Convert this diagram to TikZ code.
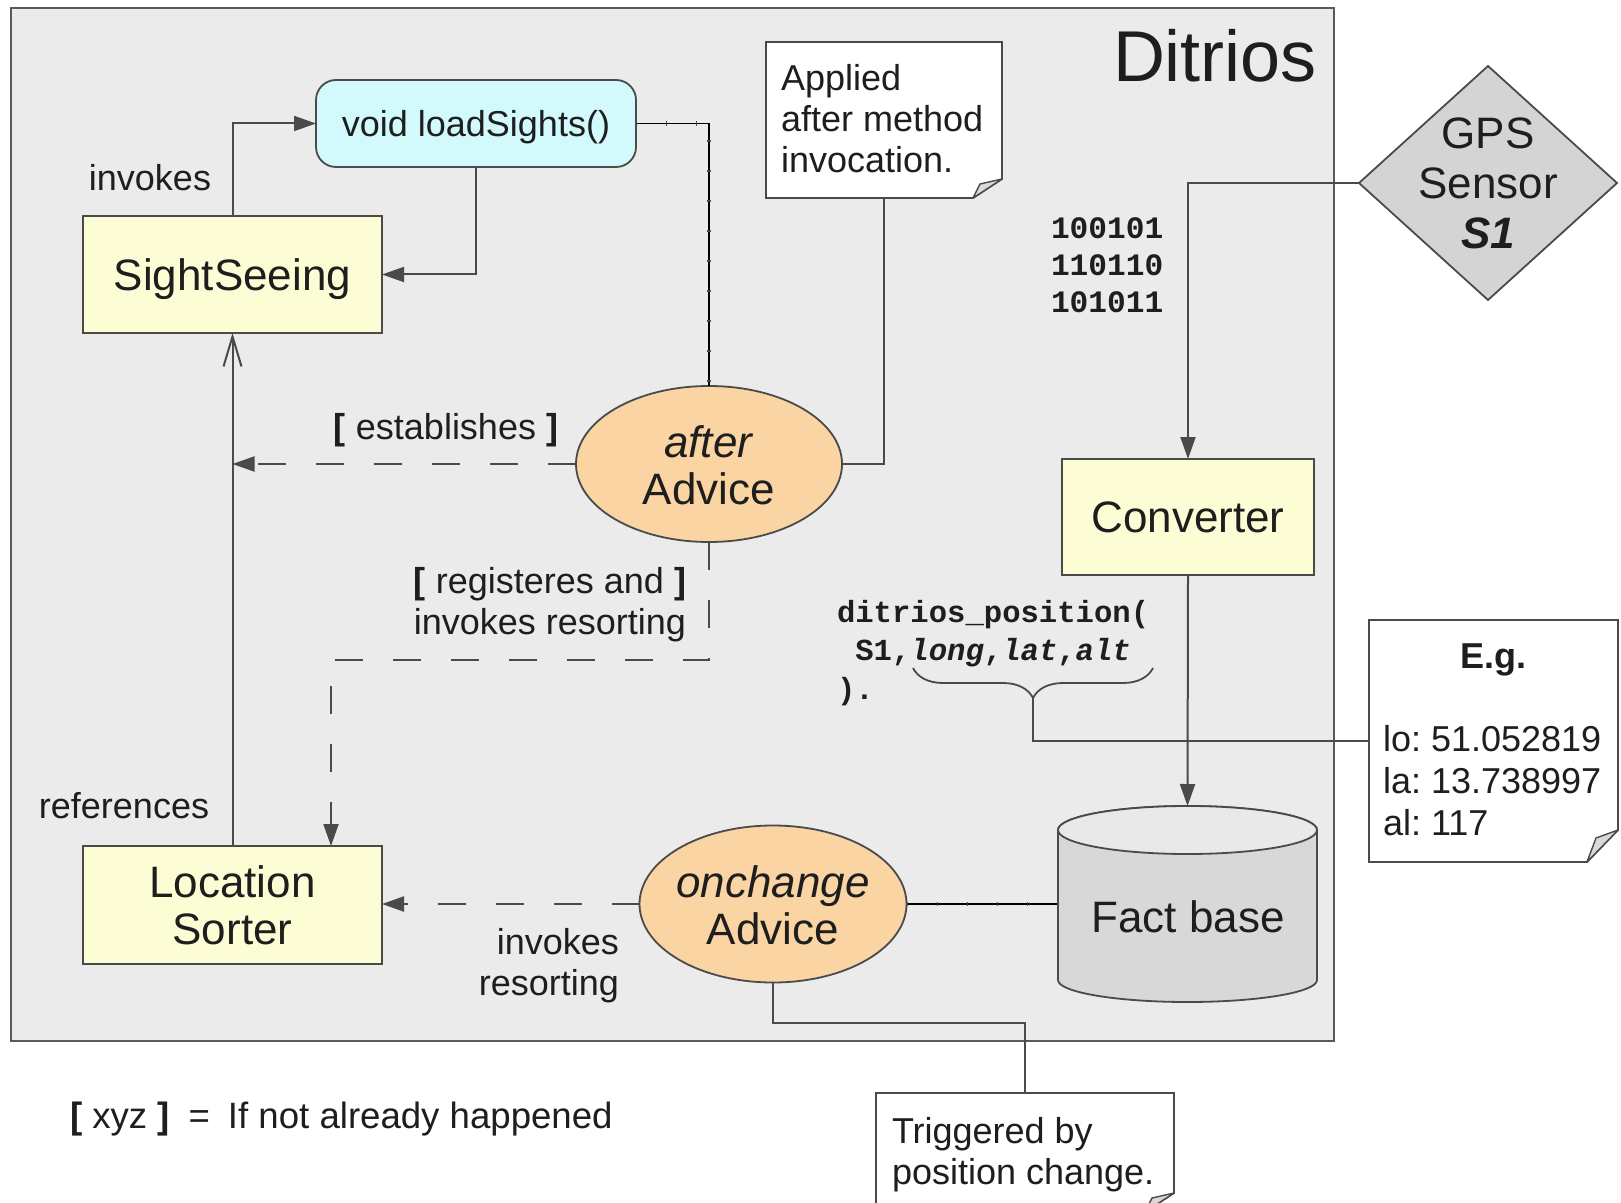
\documentclass[tikz,border=0pt]{standalone}
\usepackage{fontspec}
\setmainfont{Liberation Sans}
\setmonofont{Liberation Mono}
\usetikzlibrary{arrows.meta,shapes.geometric,fit,decorations.pathreplacing}

\definecolor{framefill}{HTML}{EBEBEB}
\definecolor{frameline}{HTML}{5A5A5A}
\definecolor{boxline}{HTML}{4A4A4A}
\definecolor{methodfill}{HTML}{D2FAFC}
\definecolor{classfill}{HTML}{FDFDD5}
\definecolor{advicefill}{HTML}{FAD4A2}
\definecolor{sensorfill}{HTML}{D4D4D4}
\definecolor{dbbody}{HTML}{D8D8D8}
\definecolor{dbtop}{HTML}{E9E9E9}
\definecolor{foldfill}{HTML}{D9D9D9}
\definecolor{ink}{HTML}{1E1E1E}

\newcommand\boxfont{\fontsize{22}{23.5}\selectfont}
\newcommand\labfont{\fontsize{18}{20.5}\selectfont}
\newcommand\bitsfont{\ttfamily\bfseries\fontsize{15.6}{18.5}\selectfont}
\newcommand\codefont{\ttfamily\bfseries\fontsize{15.3}{19.3}\selectfont}

% note with a folded bottom-right corner, drawn round an (empty) fit node
% #1 node, #2 cut along bottom, #3 cut along right side, #4/#5 inner corner of the fold
\newcommand\dogear[5]{%
  \path[noteline] (#1.north west) -- (#1.north east) -- ([yshift=#3]#1.south east)
     -- ([xshift=-#2]#1.south east) -- (#1.south west) -- cycle;
  \path[fold] ([yshift=#3]#1.south east) -- ([xshift=-#4,yshift=#5]#1.south east)
     -- ([xshift=-#2]#1.south east) -- cycle;
}

\begin{document}
\frenchspacing
\begin{tikzpicture}[
  x=0.5pt, y=-0.5pt,
  every node/.style={text=ink, inner sep=0pt, outer sep=0pt},
  classbox/.style={draw=boxline, line width=0.9pt, fill=classfill, font=\boxfont, align=center},
  methodbox/.style={draw=boxline, line width=0.9pt, fill=methodfill, rounded corners=10pt,
                    font=\labfont, text depth=0pt},
  advice/.style={ellipse, draw=boxline, line width=0.9pt, fill=advicefill,
                 minimum width=133pt, minimum height=78pt},
  advicetext/.style={font=\boxfont, align=center},
  lab/.style={font=\labfont},
  conn/.style={draw=boxline, line width=1pt},
  arr/.style={conn, -{Triangle[length=11pt,width=7.5pt]}},
  dasharr/.style={arr, dash pattern=on 14pt off 15pt},
  openarr/.style={conn, -{Straight Barb[length=15pt,width=9pt]}},
  ticked/.style={draw=black, line width=0.8pt,
                 postaction={draw=boxline, line width=2.2pt, dash pattern=on 0.6pt off 14.4pt}},
  noteline/.style={draw=boxline, line width=0.9pt, fill=white},
  fold/.style={draw=boxline, line width=0.7pt, fill=foldfill, line join=round},
]
\useasboundingbox (0,0) rectangle (1621,1203);
\clip (0,0) rectangle (1621,1203);
\fill[white] (0,0) rectangle (1621,1203);

% system boundary
\node[fit={(11,8) (1334,1041)}, draw=frameline, fill=framefill, line width=1pt] (system) {};
\node[anchor=base east, font=\fontsize{36}{40}\selectfont] (title) at (1317,82) {Ditrios};

% classes and method
\node[methodbox, minimum width=160pt, minimum height=43.5pt] (load) at (476,123.5) {void loadSights()};
\node[classbox, text depth=0pt, minimum width=149.5pt, minimum height=58.5pt] (ss) at (232.5,274.5) {SightSeeing};
\node[classbox, minimum width=149.5pt, minimum height=59pt] (lsort) at (232.5,905) {Location\\Sorter};

% advices
\node[advice] (after) at (709,464) {};
\node[advicetext] (aftertxt) at (709,465) {\textit{after}\\Advice};
\node[advice, minimum width=133.5pt, minimum height=78.5pt] (onch) at (773,904) {};
\node[advicetext] (onchtxt) at (773,905) {\textit{onchange}\\Advice};

% note: after advice
\path node[fit={(766,42) (1002,198)}] (applied) {};
\dogear{applied}{14.5pt}{9.5pt}{11pt}{7pt}
\node[lab, anchor=west, align=left] (appliedtxt) at (781,119) {Applied\\after method\\invocation.};

% sensor
\node[diamond, draw=boxline, line width=0.9pt, fill=sensorfill,
      minimum width=129pt, minimum height=117pt] (gps) at (1488,183) {};
\node[font=\fontsize{22}{25}\selectfont, align=center] (gpstxt) at (1488,183) {GPS\\Sensor\\\textbf{\textit{S1}}};
\node[anchor=west, align=left, font=\bitsfont] (bits) at (1051,265) {100101\\110110\\101011};

% converter
\node[classbox, minimum width=126pt, minimum height=58pt] (conv) at (1188,517) {Converter};

% fact base (cylinder)
\path[draw=boxline, line width=0.9pt, fill=dbbody]
  (1058,830) -- (1058,980) arc[start angle=180, end angle=360, x radius=64.75pt, y radius=11pt]
  -- (1317,830) arc[start angle=0, end angle=180, x radius=64.75pt, y radius=12pt] -- cycle;
\path[draw=boxline, line width=0.9pt, fill=dbtop] (1187.5,830) ellipse[x radius=64.75pt, y radius=12pt];
\path node[fit={(1058,806) (1317,1002)}] (fb) {};
\node[font=\boxfont] (fbtxt) at (1188,917) {Fact base};

% fact term
\node[anchor=west, align=left, font=\codefont] (fact) at (837,653)
  {ditrios\_position(\\\hphantom{(}S1,\textit{long},\textit{lat},\textit{alt}\\).};
\draw[boxline, line width=0.9pt, decorate, decoration={brace, mirror, amplitude=15pt}]
  (913,668) -- (1153,668);
\coordinate (bracetip) at (1033,698);

% example note
\path node[fit={(1369,620) (1618,862)}] (eg) {};
\dogear{eg}{15.5pt}{16pt}{11pt}{12pt}
\node[font=\labfont\bfseries] (egtitle) at (1493,660) {E.g.};
\node[font=\fontsize{18}{21}\selectfont, anchor=west, align=left] (egbody) at (1383,781)
  {lo: 51.052819\\la: 13.738997\\al: 117};

% trigger note
\path node[fit={(876,1093) (1174,1212)}] (trig) {};
\dogear{trig}{14.5pt}{9.5pt}{11pt}{7pt}
\node[lab, anchor=west, align=left] (trigtxt) at (892,1155) {Triggered by\\position change.};

% legend
\node[font=\fontsize{18.3}{21}\selectfont, anchor=west] (legend) at (70,1119)
  {{\bfseries[} xyz {\bfseries]}\hspace{9.5pt}=\hspace{9pt}If not already happened};

% edge labels
\node[lab] (invlab) at (150,178) {invokes};
\node[lab] (reflab) at (124,806) {references};
\node[lab] (estlab) at (446,430) {{\bfseries[} establishes {\bfseries]}};
\node[lab, align=center] (reglab) at (550,605) {{\bfseries[} registeres and {\bfseries]}\\invokes resorting};
\node[lab, align=right, anchor=east] (resortlab) at (619,966) {invokes\\resorting};

% connectors
\draw[arr] (ss.north) |- (load.west);
\draw[arr] (load.south) |- (ss.east);
\draw[ticked] (load.east) -| (after.north);
\draw[conn] (applied.south) |- (after.east);
\draw[dasharr] (after.west) -- (after.west -| ss.south);
\draw[openarr] (lsort.north) -- (ss.south);
\coordinate (bend) at (331,660);
\draw[dasharr] (after.south) |- (bend) -- (bend |- lsort.north);
\draw[dasharr] (onch.west) -- (onch.west -| lsort.east);
\draw[ticked] (onch.east) -- (fb.west);
\draw[arr] (gps.west) -| (conv.north);
\draw[arr] (conv.south) -- (fb.north);
\draw[conn] (bracetip) |- (eg.west);
\draw[conn] (onch.south) -- ++(0,40) -| (trig.north);
\end{tikzpicture}
\end{document}
